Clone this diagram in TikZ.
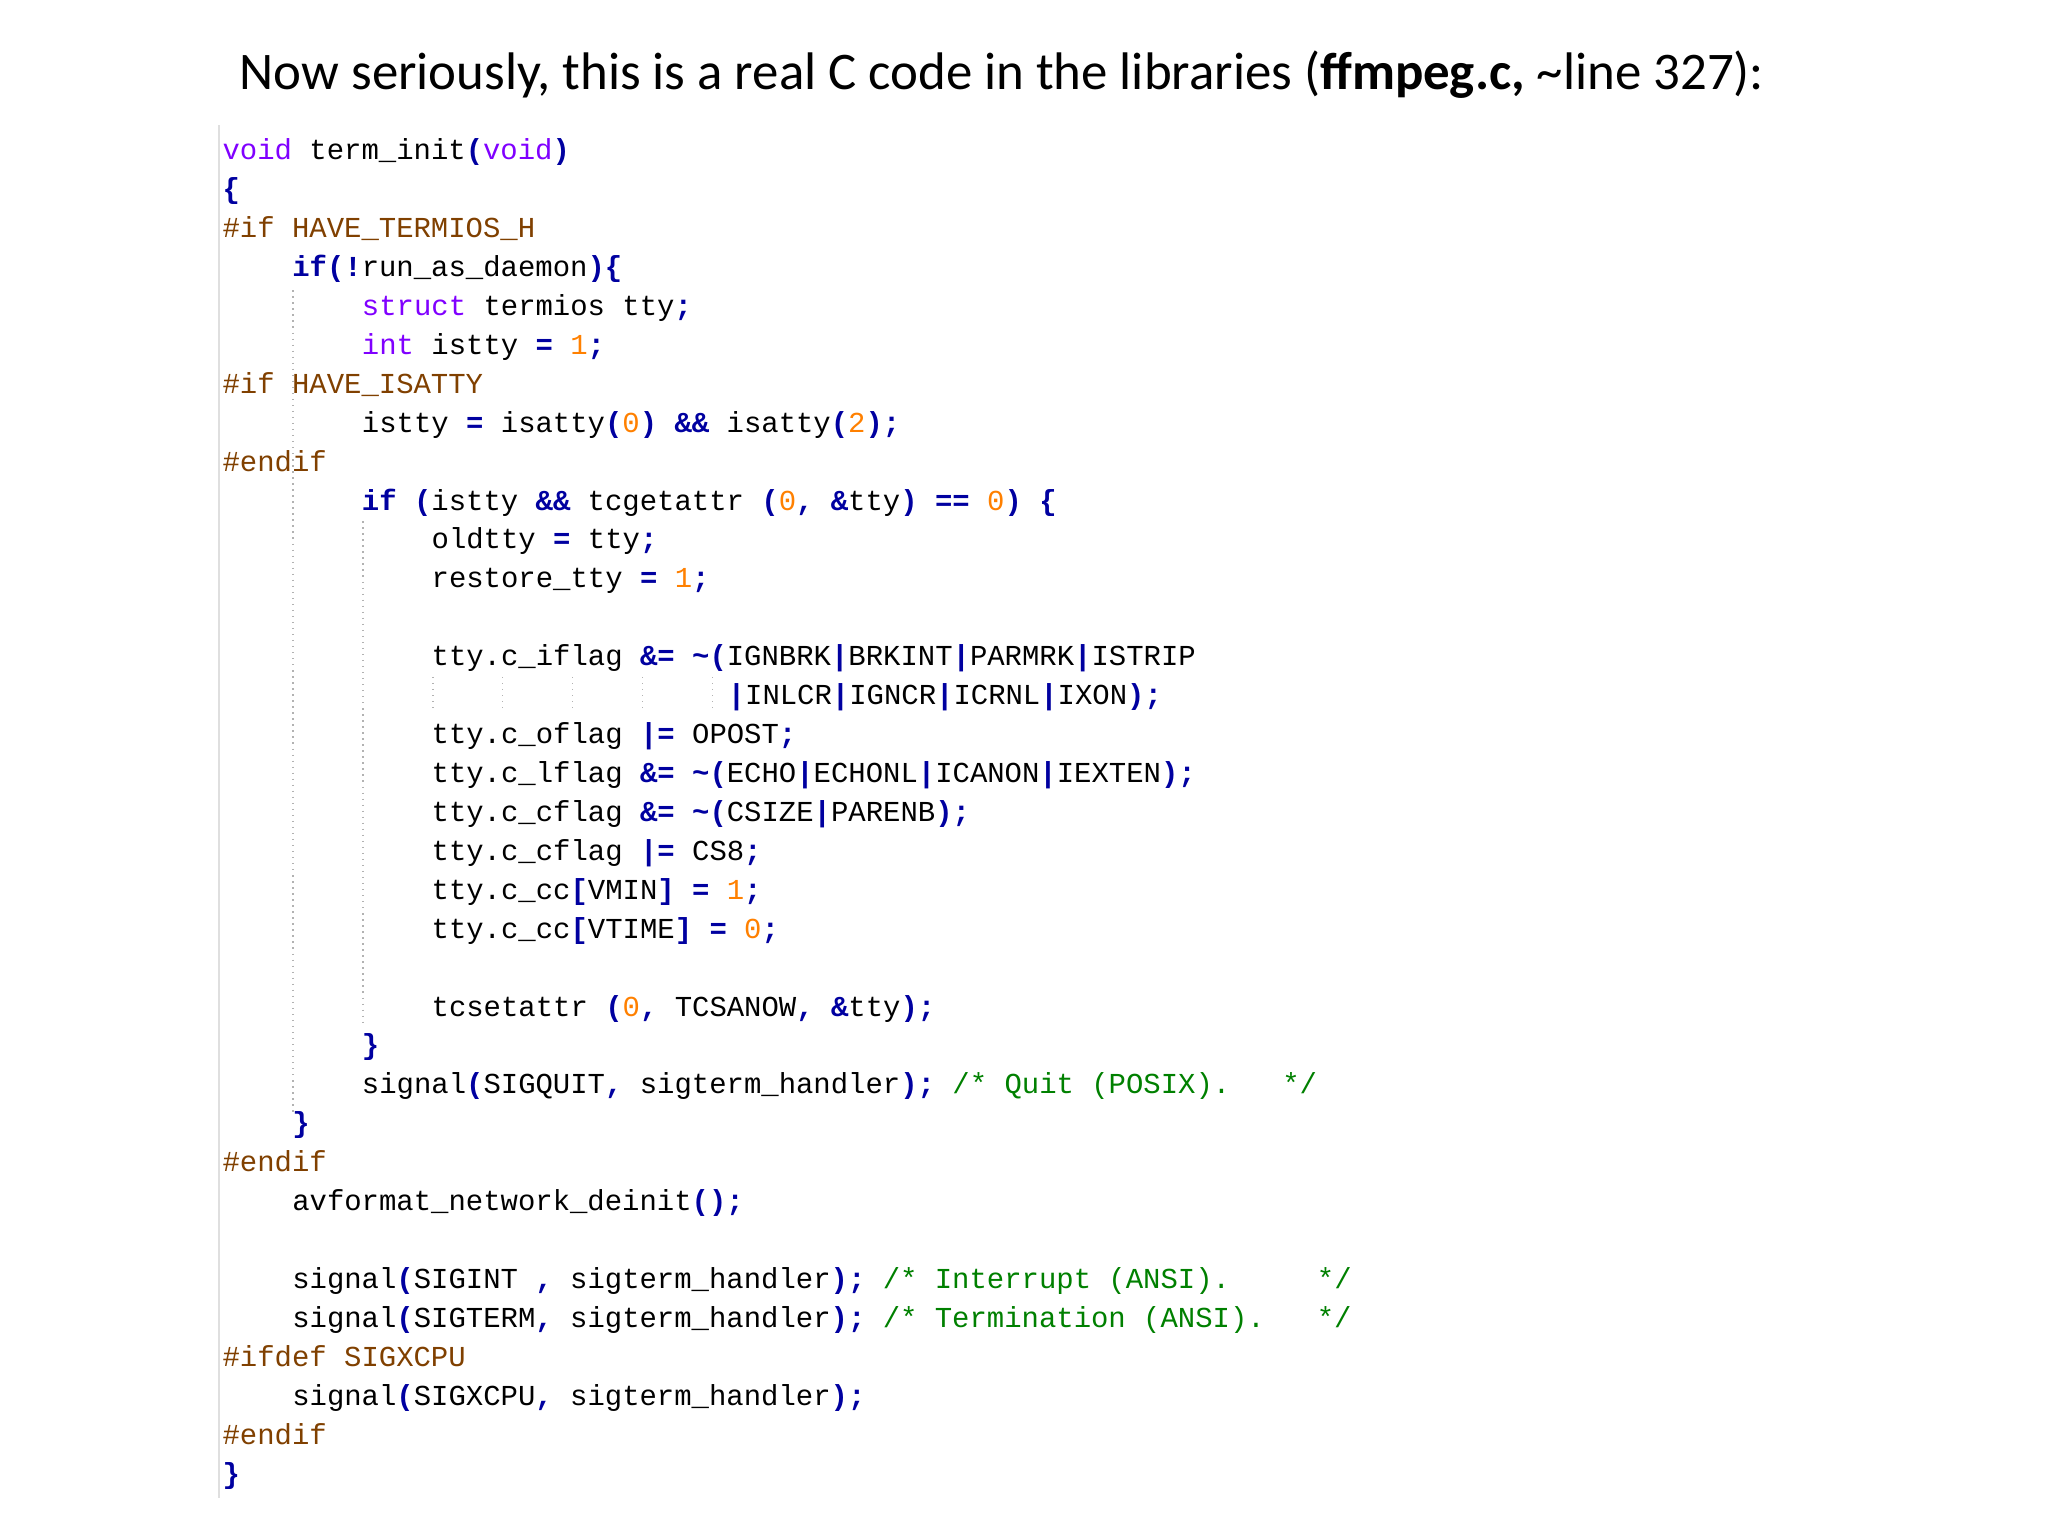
\documentclass[tikz,border=0pt]{standalone}
\usepackage{fontspec}
\setmainfont{Carlito}
\setmonofont{Liberation Mono}
\usetikzlibrary{positioning}
\definecolor{kwpurple}{RGB}{128,0,255}
\definecolor{kwblue}{RGB}{0,0,160}
\definecolor{ppbrown}{RGB}{128,64,0}
\definecolor{numorange}{RGB}{255,128,0}
\definecolor{cmgreen}{RGB}{0,128,0}
\newcommand{\kw}[1]{\textcolor{kwpurple}{#1}}
\newcommand{\kb}[1]{\textcolor{kwblue}{\bfseries #1}}
\newcommand{\op}[1]{\textcolor{kwblue}{\bfseries #1}}
\newcommand{\pp}[1]{\textcolor{ppbrown}{#1}}
\newcommand{\nm}[1]{\textcolor{numorange}{#1}}
\newcommand{\cm}[1]{\textcolor{cmgreen}{#1}}
\tikzset{
  code/.style={anchor=base west,inner sep=0pt,font=\ttfamily\fontsize{6.24}{7}\selectfont},
  guide/.style={gray!60,densely dotted,line width=0.3pt}
}
% line n, indent k
\newcommand{\codeline}[3]{\node[code] (l#1) at ({1.68+#2*0.132},{-(1.21+(#1-1)*0.295)}) {#3};}

\begin{document}
\begin{tikzpicture}
  \useasboundingbox (0,0) rectangle (15.52,-11.64);
  % Title
  \node[anchor=base west,inner sep=0pt,font=\fontsize{11.4}{13}\selectfont] (title) at (1.81,-0.68)
    {Now seriously, this is a real C code in the libraries (\textbf{ffmpeg.c,} \textasciitilde line 327):};

  % Guides
  \draw[gray!25,line width=0.3pt] (1.66,-0.95) -- (1.66,-11.35);
  \draw[guide] (2.22,-2.20) -- (2.22,-8.45);
  \draw[guide] (2.75,-3.95) -- (2.75,-7.75);
  \foreach \gx in {3.28,3.81,4.34,4.87,5.40} \draw[guide] (\gx,-5.13) -- (\gx,-5.40);

  % Code
  \codeline{1}{0}{\kw{void} term\_init\op{(}\kw{void}\op{)}}
  \codeline{2}{0}{\op{\{}}
  \codeline{3}{0}{\pp{\#if HAVE\_TERMIOS\_H}}
  \codeline{4}{4}{\kb{if}\op{(!}run\_as\_daemon\op{)\{}}
  \codeline{5}{8}{\kw{struct} termios tty\op{;}}
  \codeline{6}{8}{\kw{int} istty \op{=} \nm{1}\op{;}}
  \codeline{7}{0}{\pp{\#if HAVE\_ISATTY}}
  \codeline{8}{8}{istty \op{=} isatty\op{(}\nm{0}\op{)} \op{\&\&} isatty\op{(}\nm{2}\op{);}}
  \codeline{9}{0}{\pp{\#endif}}
  \codeline{10}{8}{\kb{if} \op{(}istty \op{\&\&} tcgetattr \op{(}\nm{0}\op{,} \op{\&}tty\op{)} \op{==} \nm{0}\op{)} \op{\{}}
  \codeline{11}{12}{oldtty \op{=} tty\op{;}}
  \codeline{12}{12}{restore\_tty \op{=} \nm{1}\op{;}}
  \codeline{14}{12}{tty.c\_iflag \op{\&=} \op{\textasciitilde(}IGNBRK\op{|}BRKINT\op{|}PARMRK\op{|}ISTRIP}
  \codeline{15}{29}{\op{|}INLCR\op{|}IGNCR\op{|}ICRNL\op{|}IXON\op{);}}
  \codeline{16}{12}{tty.c\_oflag \op{|=} OPOST\op{;}}
  \codeline{17}{12}{tty.c\_lflag \op{\&=} \op{\textasciitilde(}ECHO\op{|}ECHONL\op{|}ICANON\op{|}IEXTEN\op{);}}
  \codeline{18}{12}{tty.c\_cflag \op{\&=} \op{\textasciitilde(}CSIZE\op{|}PARENB\op{);}}
  \codeline{19}{12}{tty.c\_cflag \op{|=} CS8\op{;}}
  \codeline{20}{12}{tty.c\_cc\op{[}VMIN\op{]} \op{=} \nm{1}\op{;}}
  \codeline{21}{12}{tty.c\_cc\op{[}VTIME\op{]} \op{=} \nm{0}\op{;}}
  \codeline{23}{12}{tcsetattr \op{(}\nm{0}\op{,} TCSANOW\op{,} \op{\&}tty\op{);}}
  \codeline{24}{8}{\op{\}}}
  \codeline{25}{8}{signal\op{(}SIGQUIT\op{,} sigterm\_handler\op{);} \cm{/* Quit (POSIX).~~~*/}}
  \codeline{26}{4}{\op{\}}}
  \codeline{27}{0}{\pp{\#endif}}
  \codeline{28}{4}{avformat\_network\_deinit\op{();}}
  \codeline{30}{4}{signal\op{(}SIGINT \op{,} sigterm\_handler\op{);} \cm{/* Interrupt (ANSI).~~~~~*/}}
  \codeline{31}{4}{signal\op{(}SIGTERM\op{,} sigterm\_handler\op{);} \cm{/* Termination (ANSI).~~~*/}}
  \codeline{32}{0}{\pp{\#ifdef SIGXCPU}}
  \codeline{33}{4}{signal\op{(}SIGXCPU\op{,} sigterm\_handler\op{);}}
  \codeline{34}{0}{\pp{\#endif}}
  \codeline{35}{0}{\op{\}}}
\end{tikzpicture}
\end{document}
